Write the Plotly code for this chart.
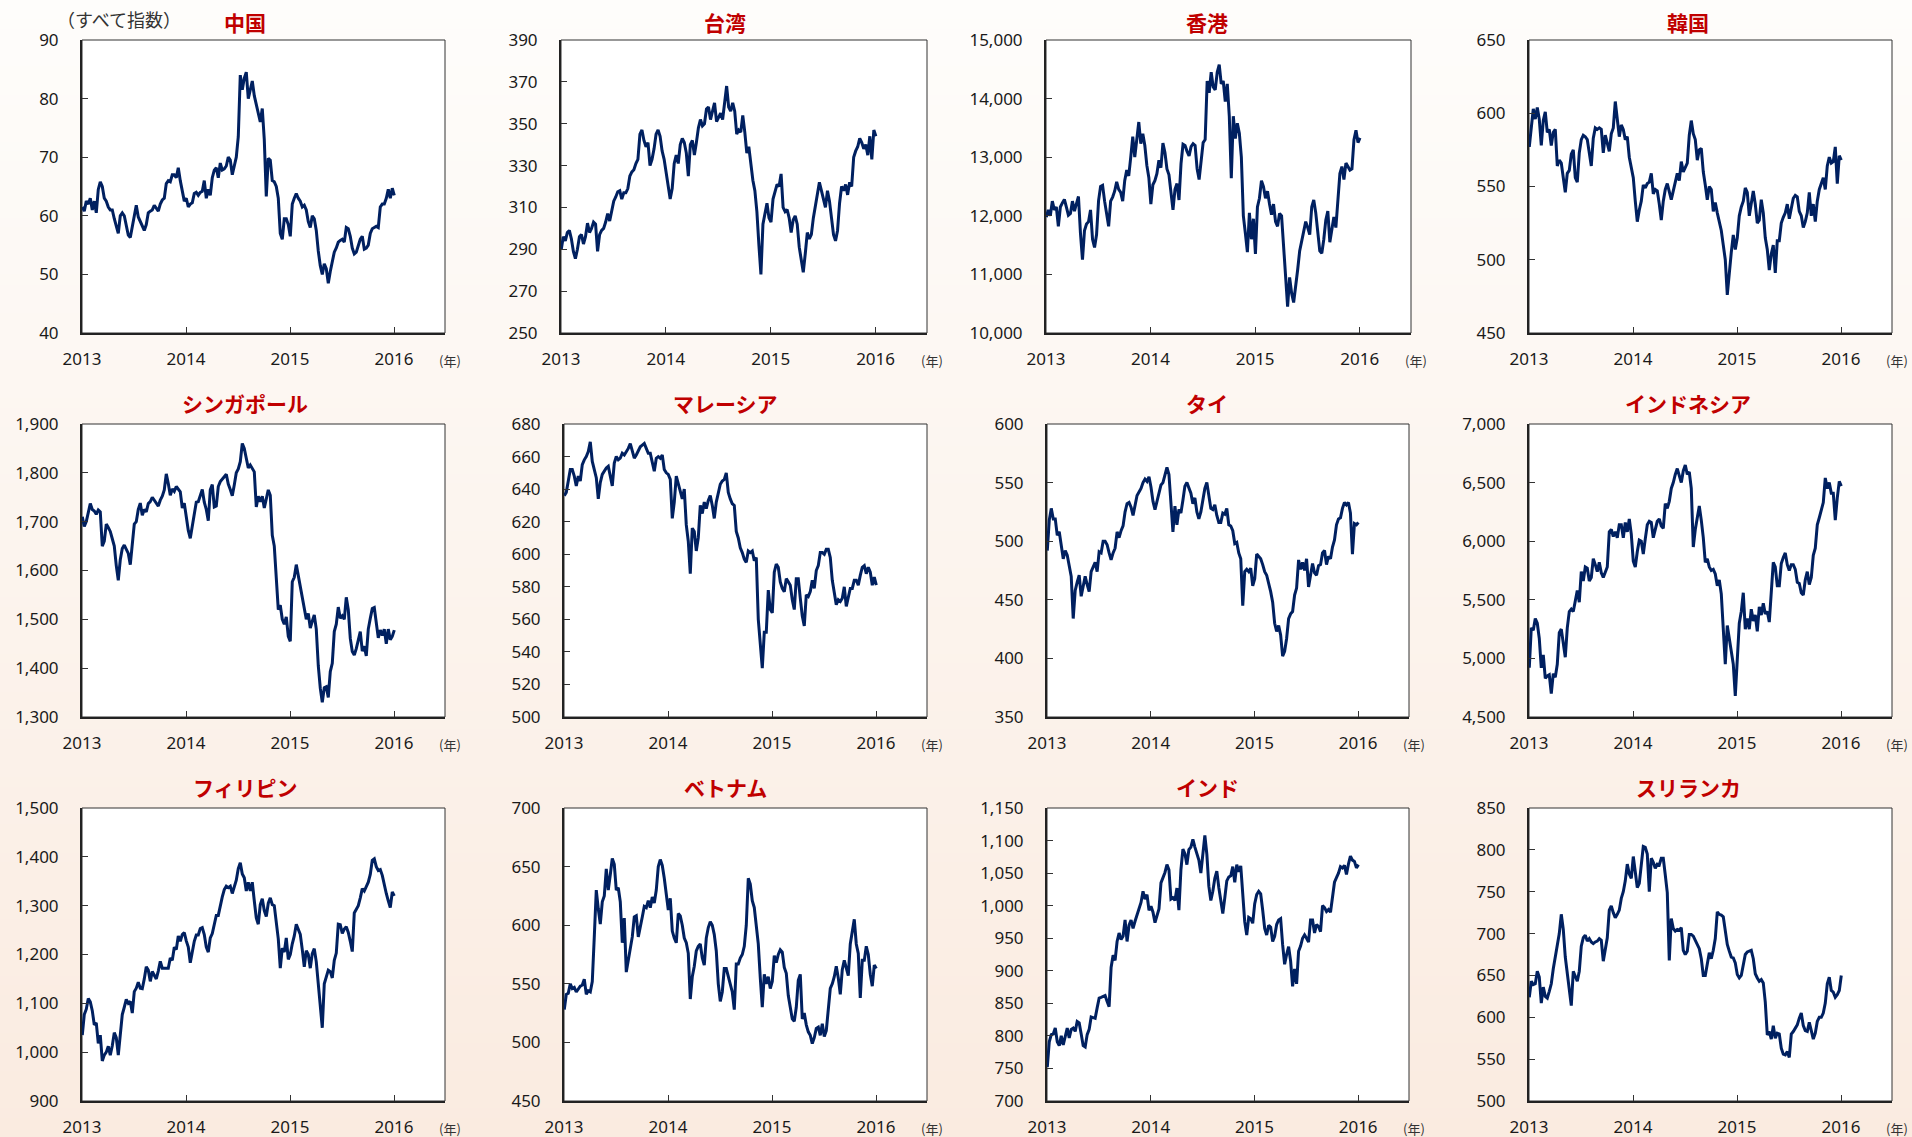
import plotly.graph_objects as go
import pandas as pd

W, H = 1912, 1137

TITLES = ["中国", "台湾", "香港", "韓国", "シンガポール", "マレーシア",
          "タイ", "インドネシア", "フィリピン", "ベトナム", "インド", "スリランカ"]
YEAR_TICKS = ["2013", "2014", "2015", "2016"]
UNIT_LABEL = "（すべて指数）"
YEAR_UNIT = "(年)"

CHINA = [61.5, 60.8, 62.5, 62.0, 63.0, 61.0, 62.5, 60.5, 64.5, 65.8,
         65.0, 63.0, 62.5, 61.5, 61.0, 61.0, 59.5, 58.0, 57.0, 60.0,
         60.5, 60.0, 58.5, 56.7, 56.3, 58.0, 59.5, 61.8, 59.8, 59.0,
         58.5, 57.5, 58.5, 60.5, 60.8, 61.0, 61.8, 61.3, 60.8, 62.0,
         62.7, 63.0, 65.5, 66.0, 65.8, 67.0, 67.0, 66.5, 68.2, 66.0,
         64.5, 62.5, 63.0, 61.5, 62.0, 62.2, 63.8, 64.0, 63.5, 64.0,
         64.2, 66.0, 63.0, 64.5, 63.5, 66.5, 67.8, 68.2, 66.5, 69.0,
         67.8, 68.0, 68.5, 70.0, 69.5, 67.0, 68.5, 70.0, 73.5, 84.0,
         81.5, 83.5, 84.5, 80.0, 81.5, 83.0, 80.5, 79.0, 77.0, 76.0,
         78.3, 73.0, 63.3, 69.8, 69.5, 66.0, 65.8, 65.0, 63.0, 57.0,
         56.0, 59.5, 59.5, 58.5, 56.5, 62.0, 63.0, 63.8, 63.0, 62.5,
         61.5, 61.8, 61.0, 59.0, 58.0, 60.0, 59.5, 57.5, 54.0, 51.5,
         50.0, 51.8, 51.0, 48.5, 50.5, 52.0, 53.8, 54.5, 55.5, 55.8,
         56.0, 55.5, 58.0, 57.8, 56.5, 54.5, 53.5, 53.8, 55.0, 56.0,
         56.5, 54.3, 54.5, 55.0, 57.0, 57.8, 58.0, 58.2, 58.0, 61.5,
         62.0, 62.0, 63.0, 64.5, 63.0, 64.7, 63.5]

TAIWAN = [290, 296, 294, 298, 299, 295, 289, 285.5, 290, 296,
          297, 292.5, 296, 302.5, 298, 300, 303, 302, 289, 297,
          299, 300, 303, 307, 303.5, 309, 313, 315, 317.5, 318,
          314, 317, 317, 319, 325, 327, 328, 331, 333, 345,
          347, 342, 339, 341, 330, 333, 338, 345, 347, 344,
          337, 333, 327, 322, 314, 319, 331, 335, 331, 340,
          343, 341, 336, 325, 340, 342, 335, 341, 348, 352,
          349, 350, 357, 358, 352, 356, 360, 351, 353, 355,
          352, 361, 368, 358, 356, 360, 356, 345, 347, 346,
          354, 346, 336, 339, 330, 323, 318, 308, 292, 278,
          302, 308, 312, 305, 303, 314, 318, 321, 320, 326,
          310, 308, 309, 305, 298, 304, 306, 302, 291, 284,
          279, 288, 298, 295, 297, 305, 311, 317, 322, 318,
          314, 310, 318, 313, 305, 297, 294, 299, 312, 320,
          318, 321, 316, 322, 320, 334, 337, 339, 343, 341,
          338, 340, 335, 344, 333, 347, 344]

HONGKONG = [11980, 12100, 12000, 12250, 12100, 12150, 11820, 12150, 12220, 12280,
            12150, 12010, 12040, 12250, 12080, 12200, 12330, 11700, 11250, 11750,
            11860, 11900, 12100, 11600, 11460, 11680, 12260, 12500, 12520, 12250,
            12060, 11820, 12250, 12320, 12420, 12580, 12450, 12400, 12250, 12600,
            12780, 12680, 13000, 13350, 13000, 13300, 13600, 13230, 13400, 13200,
            12860, 12650, 12200, 12530, 12600, 12720, 12950, 12820, 13240, 13080,
            12800, 12700, 12400, 12100, 12450, 12550, 12270, 12890, 13220, 13200,
            13100, 13020, 13180, 13230, 13200, 12800, 12620, 13000, 13250, 13300,
            14300, 14100, 14450, 14200, 14150, 14450, 14580, 14250, 14300, 13950,
            14250, 13700, 12640, 13700, 13320, 13580, 13410, 13000, 12000, 11700,
            11380, 12050, 11600, 11950, 11350, 12150, 12300, 12600, 12500, 12300,
            12420, 12200, 12020, 12200, 11900, 11820, 12040, 12000, 11450, 10850,
            10450, 10950, 10680, 10520, 10780, 11080, 11400, 11590, 11750, 11900,
            11800, 11680, 12150, 12270, 12050, 11700, 11400, 11360, 11600, 11930,
            12080, 11550, 11750, 11980, 11800, 12330, 12720, 12840, 12620, 12900,
            12850, 12780, 12800, 13300, 13460, 13250, 13330]

KOREA = [577, 592, 603, 596, 604, 596, 578, 595, 601, 587,
         589, 578, 587, 589, 564, 568, 566, 556, 546, 559,
         561, 572, 575, 556, 553, 573, 582, 585, 584, 582,
         572, 564, 583, 590, 589, 590, 589, 573, 585, 580,
         574, 586, 590, 608, 595, 584, 592, 589, 582, 584,
         570, 564, 556, 540, 526, 534, 540, 551, 549, 552,
         553, 559, 545, 548, 547, 538, 527, 540, 548, 552,
         546, 541, 547, 553, 559, 554, 567, 560, 563, 566,
         585, 595, 586, 582, 568, 575, 576, 560, 551, 541,
         550, 548, 533, 539, 532, 525, 520, 510, 500, 476,
         492, 505, 517, 507, 515, 530, 536, 540, 549, 546,
         530, 540, 547, 538, 525, 527, 541, 532, 515, 507,
         493, 504, 510, 491, 513, 513, 525, 529, 532, 538,
         528, 535, 542, 544, 543, 533, 530, 522, 526, 532,
         546, 530, 538, 526, 540, 548, 552, 556, 548, 564,
         570, 566, 567, 577, 552, 571, 568]

SINGAPORE = [1710, 1690, 1700, 1722, 1737, 1725, 1722, 1715, 1724, 1720,
             1650, 1660, 1695, 1688, 1680, 1665, 1650, 1610, 1580, 1622,
             1645, 1652, 1645, 1635, 1612, 1655, 1695, 1700, 1725, 1738,
             1713, 1725, 1720, 1737, 1741, 1750, 1744, 1738, 1732, 1744,
             1752, 1765, 1798, 1778, 1754, 1767, 1762, 1772, 1765, 1761,
             1728, 1738, 1710, 1682, 1666, 1690, 1720, 1740, 1741, 1754,
             1766, 1740, 1725, 1702, 1765, 1776, 1730, 1732, 1772, 1782,
             1788, 1792, 1797, 1777, 1766, 1753, 1775, 1800, 1808, 1823,
             1860, 1850, 1830, 1810, 1816, 1809, 1802, 1730, 1752, 1741,
             1752, 1728, 1745, 1765, 1754, 1672, 1650, 1584, 1520, 1529,
             1500, 1490, 1505, 1465, 1455, 1577, 1586, 1612, 1590, 1570,
             1543, 1518, 1500, 1512, 1482, 1496, 1509, 1480, 1405, 1359,
             1330, 1360, 1362, 1340, 1393, 1410, 1475, 1490, 1525, 1502,
             1507, 1500, 1545, 1520, 1461, 1434, 1427, 1440, 1458, 1475,
             1435, 1445, 1425, 1480, 1502, 1522, 1524, 1490, 1462, 1478,
             1467, 1480, 1450, 1480, 1458, 1465, 1478]

MALAYSIA = [636, 638, 645, 652, 652, 648, 642, 648, 645, 655,
            658, 660, 663, 669, 657, 651, 647, 634, 644, 649,
            651, 653, 654, 647, 642, 656, 660, 658, 659, 662,
            661, 663, 665, 668, 663, 659, 661, 664, 666, 667,
            668, 665, 662, 662, 657, 651, 659, 660, 659, 661,
            652, 650, 649, 646, 622, 632, 648, 643, 638, 634,
            640, 618, 608, 588, 616, 614, 602, 610, 630, 625,
            632, 628, 633, 636, 630, 622, 632, 637, 643, 645,
            646, 650, 638, 634, 631, 630, 614, 610, 604, 601,
            597, 595, 602, 601, 602, 596, 598, 560, 544, 530,
            552, 552, 578, 566, 564, 589, 594, 592, 583, 579,
            577, 585, 583, 581, 572, 566, 585, 585, 573, 562,
            556, 575, 574, 577, 584, 579, 590, 593, 601, 601,
            600, 603, 603, 598, 584, 576, 569, 572, 571, 573,
            580, 568, 574, 579, 579, 584, 584, 581, 587, 592,
            593, 588, 592, 589, 581, 586, 581]

THAILAND = [492, 518, 528, 519, 519, 505, 508, 498, 485, 492,
            488, 479, 470, 434, 458, 465, 471, 453, 462, 470,
            463, 457, 474, 478, 482, 474, 491, 490, 500, 500,
            497, 490, 484, 490, 494, 508, 503, 509, 513, 525,
            532, 533, 529, 522, 530, 539, 542, 545, 550, 553,
            551, 555, 546, 534, 527, 534, 542, 548, 550, 558,
            563, 557, 528, 508, 530, 514, 527, 524, 535, 547,
            550, 545, 541, 532, 537, 525, 519, 525, 534, 545,
            550, 538, 528, 527, 531, 522, 516, 516, 524, 523,
            528, 514, 513, 509, 498, 499, 490, 485, 445, 474,
            476, 474, 477, 462, 468, 489, 487, 485, 480, 474,
            471, 465, 457, 448, 430, 423, 428, 420, 402, 406,
            417, 434, 438, 440, 454, 460, 484, 476, 482, 475,
            485, 461, 470, 481, 473, 471, 479, 480, 490, 492,
            480, 487, 485, 495, 501, 514, 519, 520, 528, 533,
            531, 533, 524, 489, 515, 514, 516]

INDONESIA = [4920, 5260, 5240, 5340, 5300, 5170, 4920, 5030, 4830, 4850,
             4860, 4700, 4870, 4840, 4950, 5220, 5250, 5120, 5010, 5260,
             5400, 5420, 5400, 5490, 5580, 5480, 5740, 5660, 5780, 5770,
             5660, 5690, 5850, 5800, 5740, 5820, 5730, 5690, 5740, 5780,
             6080, 6100, 6040, 6080, 6030, 6140, 6140, 6030, 6160, 6080,
             6190, 6060, 5830, 5780, 5910, 6010, 6000, 5890, 6020, 6140,
             6170, 6160, 6030, 6090, 6170, 6190, 6130, 6110, 6320, 6280,
             6340, 6450, 6500, 6570, 6620, 6560, 6500, 6600, 6650, 6570,
             6590, 6450, 5950, 6100, 6220, 6300, 6180, 6030, 5820, 5850,
             5780, 5750, 5760, 5720, 5620, 5670, 5550, 5200, 4950, 5280,
             5180, 5060, 4950, 4680, 5050, 5300, 5400, 5560, 5250, 5340,
             5250, 5420, 5320, 5370, 5230, 5440, 5370, 5470, 5380, 5400,
             5310, 5540, 5820, 5780, 5620, 5620, 5810, 5860, 5900, 5800,
             5750, 5800, 5800, 5760, 5650, 5640, 5560, 5540, 5670, 5740,
             5630, 5690, 5880, 5940, 6140, 6200, 6270, 6330, 6540, 6450,
             6500, 6410, 6410, 6180, 6370, 6510, 6470]

PHILIPPINES = [1035, 1077, 1088, 1110, 1103, 1085, 1056, 1060, 1018, 1035,
               982, 994, 1000, 1012, 994, 1013, 1040, 1030, 994, 1035,
               1077, 1092, 1108, 1100, 1104, 1080, 1124, 1131, 1143, 1131,
               1130, 1150, 1175, 1168, 1145, 1165, 1157, 1150, 1166, 1186,
               1172, 1172, 1173, 1172, 1193, 1188, 1215, 1210, 1238, 1227,
               1241, 1245, 1228, 1215, 1183, 1205, 1227, 1240, 1240, 1253,
               1255, 1241, 1215, 1205, 1234, 1243, 1262, 1280, 1280, 1302,
               1318, 1333, 1340, 1337, 1340, 1325, 1340, 1352, 1376, 1388,
               1365, 1357, 1330, 1348, 1330, 1348, 1310, 1275, 1262, 1302,
               1314, 1290, 1278, 1305, 1316, 1302, 1300, 1268, 1232, 1172,
               1213, 1205, 1234, 1190, 1200, 1222, 1238, 1262, 1250, 1241,
               1210, 1175, 1208, 1200, 1172, 1202, 1212, 1185, 1140, 1090,
               1050, 1140, 1152, 1168, 1165, 1152, 1188, 1203, 1262, 1261,
               1243, 1252, 1257, 1245, 1227, 1206, 1285, 1292, 1300, 1316,
               1335, 1330, 1340, 1348, 1364, 1393, 1396, 1380, 1372, 1374,
               1362, 1340, 1325, 1310, 1296, 1328, 1320]

VIETNAM = [528, 541, 542, 550, 546, 547, 543, 546, 548, 549,
           554, 541, 544, 543, 552, 590, 630, 614, 601, 620,
           625, 648, 630, 643, 657, 652, 630, 632, 620, 585,
           606, 560, 570, 578, 590, 607, 608, 590, 600, 607,
           616, 615, 621, 615, 624, 619, 630, 650, 656, 651,
           640, 625, 613, 623, 595, 589, 585, 610, 608, 600,
           589, 585, 576, 537, 556, 565, 578, 582, 584, 572,
           566, 589, 598, 603, 600, 592, 578, 550, 535, 543,
           563, 563, 556, 548, 543, 528, 567, 567, 572, 575,
           582, 600, 640, 635, 621, 615, 600, 584, 555, 530,
           558, 550, 556, 546, 552, 574, 568, 575, 579, 577,
           564, 559, 540, 529, 520, 518, 530, 553, 558, 520,
           525, 515, 509, 506, 499, 504, 512, 513, 506, 516,
           505, 510, 526, 546, 550, 556, 565, 555, 541, 562,
           570, 564, 557, 584, 595, 605, 584, 576, 538, 570,
           570, 582, 575, 558, 548, 566, 563]

INDIA = [752, 791, 802, 803, 812, 791, 785, 800, 786, 799,
         812, 797, 810, 812, 807, 822, 820, 803, 785, 783,
         802, 810, 829, 828, 827, 843, 858, 859, 860, 862,
         853, 845, 905, 924, 916, 945, 958, 948, 953, 978,
         945, 970, 978, 965, 976, 986, 997, 1005, 1022, 1010,
         1017, 993, 999, 990, 974, 986, 995, 1035, 1042, 1051,
         1063, 1055, 1010, 1012, 1008, 1027, 993, 1055, 1087, 1080,
         1063, 1086, 1090, 1102, 1090, 1079, 1070, 1050, 1080, 1108,
         1079, 1030, 1008, 1022, 1042, 1053, 1028, 1010, 988, 1012,
         1038, 1044, 1046, 1060, 1036, 1063, 1052, 1061, 1020, 975,
         955, 982, 980, 973, 1003, 1017, 1022, 1018, 993, 965,
         955, 970, 967, 945, 953, 971, 978, 980, 940, 910,
         925, 937, 915, 876, 903, 880, 930, 938, 950, 955,
         950, 944, 978, 978, 958, 971, 968, 960, 1000, 997,
         991, 994, 990, 1018, 1036, 1043, 1050, 1060, 1058, 1062,
         1048, 1064, 1076, 1070, 1068, 1058, 1063]

SRILANKA = [624, 643, 639, 640, 655, 648, 617, 636, 625, 623,
            631, 640, 658, 672, 687, 700, 723, 705, 672, 651,
            635, 614, 655, 648, 643, 655, 685, 695, 698, 691,
            694, 690, 688, 690, 691, 694, 692, 667, 680, 695,
            728, 733, 725, 719, 723, 728, 742, 750, 763, 783,
            771, 766, 792, 775, 755, 760, 780, 804, 803, 795,
            750, 790, 785, 778, 783, 782, 790, 790, 770, 749,
            668, 718, 706, 703, 705, 704, 707, 680, 675, 679,
            699, 699, 697, 692, 687, 682, 670, 650, 650, 663,
            677, 670, 680, 694, 726, 723, 722, 720, 705, 687,
            679, 672, 671, 665, 651, 647, 650, 661, 675, 678,
            679, 680, 670, 652, 647, 643, 645, 641, 618, 579,
            583, 574, 590, 575, 581, 580, 563, 556, 555, 559,
            552, 580, 583, 587, 591, 599, 605, 590, 584, 583,
            594, 584, 574, 581, 595, 600, 600, 605, 617, 640,
            648, 632, 630, 624, 627, 632, 650]

SERIES = [CHINA, TAIWAN, HONGKONG, KOREA, SINGAPORE, MALAYSIA,
          THAILAND, INDONESIA, PHILIPPINES, VIETNAM, INDIA, SRILANKA]
Y_MIN = [40, 250, 10000, 450, 1300, 500, 350, 4500, 900, 450, 700, 500]
Y_MAX = [90, 390, 15000, 650, 1900, 680, 600, 7000, 1500, 700, 1150, 850]
Y_STEP = [10, 20, 1000, 50, 100, 20, 50, 500, 100, 50, 50, 50]

# ---------- layout geometry (pixels) ----------
BOX_LEFT = [[82, 561, 1046, 1529], [82, 564, 1047, 1529], [82, 564, 1047, 1529]]
BOX_RIGHT = [[445, 927, 1411, 1892], [445, 927, 1409, 1892], [445, 927, 1409, 1892]]
BOX_TOP = [40, 424, 808]
BOX_BOTTOM = [333, 717, 1101]
TITLE_X = [245, 725, 1207, 1688]
TITLE_Y = [22, 403, 787]

LINE_COLOR = "#002060"
TICK_FONT = dict(family="Noto Sans, Open Sans, sans-serif", size=17, color="#1a1a1a")

fig = go.Figure()
layout = {}
shapes = []
annotations = []

# background gradient (top: near white, bottom: light peach)
TOP_RGB = (254, 253, 251)
BOT_RGB = (250, 235, 224)
NB = 120
for j in range(NB):
    t = 1 - (j + 0.5) / NB
    col = tuple(round(TOP_RGB[i] + (BOT_RGB[i] - TOP_RGB[i]) * t) for i in range(3))
    shapes.append(dict(type="rect", xref="paper", yref="paper", x0=0, x1=1,
                       y0=j / NB, y1=min(1.0, (j + 1) / NB + 0.002), layer="below",
                       fillcolor="rgb(%d,%d,%d)" % col, line=dict(width=0)))

for k in range(12):
    r, c = divmod(k, 4)
    vals = SERIES[k]
    dates = pd.date_range("2013-01-02", "2016-01-02", periods=len(vals))
    xa = "x" if k == 0 else f"x{k + 1}"
    ya = "y" if k == 0 else f"y{k + 1}"
    fig.add_trace(go.Scatter(x=dates, y=vals, mode="lines",
                             line=dict(color=LINE_COLOR, width=3),
                             xaxis=xa, yaxis=ya, showlegend=False, hoverinfo="skip"))
    L, R = BOX_LEFT[r][c], BOX_RIGHT[r][c]
    T, B = BOX_TOP[r], BOX_BOTTOM[r]
    layout["xaxis" if k == 0 else f"xaxis{k + 1}"] = dict(
        domain=[L / W, R / W], anchor=ya, type="date",
        range=["2013-01-01", "2016-06-28"],
        tickvals=[f"{y}-01-01" for y in YEAR_TICKS], ticktext=YEAR_TICKS,
        ticks="inside", ticklen=6, tickwidth=1, tickcolor="#333",
        showline=True, linecolor="#222", linewidth=2,
        showgrid=False, zeroline=False, tickfont=TICK_FONT,
        ticklabelstandoff=10, automargin=False, fixedrange=True)
    layout["yaxis" if k == 0 else f"yaxis{k + 1}"] = dict(
        domain=[1 - B / H, 1 - T / H], anchor=xa,
        range=[Y_MIN[k], Y_MAX[k]], tick0=Y_MIN[k], dtick=Y_STEP[k],
        tickformat=",d", ticks="inside", ticklen=6, tickwidth=1, tickcolor="#333",
        showline=True, linecolor="#222", linewidth=2,
        showgrid=False, zeroline=False, tickfont=TICK_FONT,
        ticklabelstandoff=18, automargin=False, fixedrange=True)
    shapes.append(dict(type="rect", xref=f"{xa} domain", yref=f"{ya} domain",
                       x0=0, x1=1, y0=0, y1=1, layer="below",
                       fillcolor="white", line=dict(color="#333", width=1)))
    annotations.append(dict(text=f"<b>{TITLES[k]}</b>", x=TITLE_X[c] / W, y=1 - TITLE_Y[r] / H,
                            xref="paper", yref="paper", xanchor="center", yanchor="middle",
                            showarrow=False,
                            font=dict(family="Noto Sans CJK JP", size=21, color="#C00000")))
    annotations.append(dict(text=YEAR_UNIT, x=(R + 5) / W, y=1 - (B + 27) / H,
                            xref="paper", yref="paper", xanchor="center", yanchor="middle",
                            showarrow=False,
                            font=dict(family="Noto Sans CJK JP", size=13, color="#333")))

annotations.append(dict(text=UNIT_LABEL, x=119 / W, y=1 - 19 / H,
                        xref="paper", yref="paper", xanchor="center", yanchor="middle",
                        showarrow=False,
                        font=dict(family="Noto Sans CJK JP", size=18, color="#333")))

fig.update_layout(
    width=W, height=H, autosize=False,
    margin=dict(l=0, r=0, t=0, b=0, pad=0, autoexpand=False),
    paper_bgcolor="#FCF6F1", plot_bgcolor="white",
    shapes=shapes, annotations=annotations, showlegend=False,
    **layout)

fig.write_html("out.html")
